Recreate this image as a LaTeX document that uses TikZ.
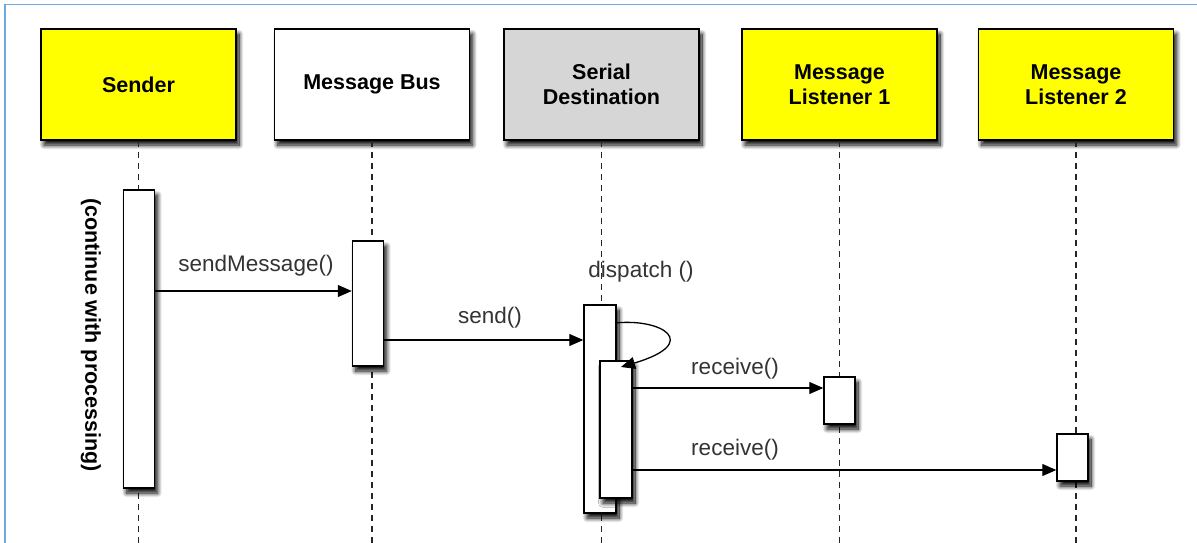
\documentclass[tikz,border=0pt]{standalone}
\usepackage{fontspec}
\setmainfont{Liberation Sans}
\usetikzlibrary{arrows.meta,shadows.blur}
\definecolor{frameblue}{HTML}{6FA8DC}
\definecolor{boxgray}{HTML}{D6D6D6}
\definecolor{boxyellow}{HTML}{FFFF00}
\tikzset{
  shad/.style={blur shadow={shadow xshift=3pt, shadow yshift=-5pt, shadow blur radius=4.5pt, shadow blur steps=12, shadow opacity=100}},
  head/.style={draw=black, line width=1.5pt, minimum width=195pt, minimum height=111pt, inner sep=0pt, align=center, font=\fontsize{21.5}{25}\selectfont\bfseries, shad},
  bar/.style={draw=black, fill=white, line width=1.5pt, minimum width=31pt, inner sep=0pt, shad},
  life/.style={line width=1.4pt, dash pattern=on 6pt off 5pt, black!85},
  msg/.style={line width=1.3pt, -{Triangle[length=14pt,width=12pt]}},
  lbl/.style={font=\fontsize{22.5}{26}\selectfont, text=black!80, inner sep=0pt},
  note/.style={font=\fontsize{21.5}{25}\selectfont\bfseries, inner sep=0pt, rotate=-90}
}
\begin{document}
\begin{tikzpicture}[x=1pt,y=-1pt]
\useasboundingbox (0,0) rectangle (1197,543);
% frame
\coordinate (fa) at (5,543);
\coordinate (fb) at (5,4.5);
\coordinate (fc) at (1197,4.5);
\draw[frameblue, line width=1.8pt] (fa) -- (fb) -- (fc);
% heads
\node[head, fill=boxyellow] (sender) at (138.5,84.5) {Sender};
\node[head, fill=white] (bus) at (372,84.5) {Message Bus};
\node[head, fill=boxgray] (dest) at (601.5,84.5) {Serial\\Destination};
\node[head, fill=boxyellow] (lis1) at (839.5,84.5) {Message\\Listener 1};
\node[head, fill=boxyellow] (lis2) at (1076,84.5) {Message\\Listener 2};
% lifelines
\coordinate (bottom) at (0,543);
\draw[life] (sender.south) -- (sender.south |- bottom);
\draw[life] (bus.south) -- (bus.south |- bottom);
\draw[life] (dest.south) -- (dest.south |- bottom);
\draw[life] (lis1.south) -- (lis1.south |- bottom);
\draw[life] (lis2.south) -- (lis2.south |- bottom);
% activation bars
\node[bar, minimum height=298pt] (sbar) at (139,339) {};
\node[bar, minimum height=125pt] (bbar) at (368,303.5) {};
\node[bar, minimum width=32pt, minimum height=208pt] (dbar) at (600,409) {};
\node[bar, minimum width=32pt, minimum height=137pt] (dinner) at (616,429.5) {};
\node[bar, minimum height=47pt] (l1bar) at (839.5,400.5) {};
\node[bar, minimum height=47pt] (l2bar) at (1072.5,457.5) {};
% note
\node[note] (cont) at (91,335) {(continue with processing)};
% messages
\coordinate (y1) at (0,291);
\coordinate (y2) at (0,340);
\coordinate (y3) at (0,388);
\coordinate (y4) at (0,470);
\draw[msg] (sbar.east |- y1) -- (bbar.west |- y1);
\node[lbl] (m1) at (256,266) {sendMessage()};
\draw[msg] (bbar.east |- y2) -- (dbar.west |- y2);
\node[lbl] (m2) at (490,318) {send()};
\coordinate (selfa) at (615,323);
\coordinate (selfb) at (621,367);
\draw[msg] (selfa) .. controls (662,318) and (702,343) .. (selfb);
\node[lbl] (m3) at (641,272) {dispatch ()};
\draw[msg] (dinner.east |- y3) -- (l1bar.west |- y3);
\node[lbl] (m4) at (735,369) {receive()};
\draw[msg] (dinner.east |- y4) -- (l2bar.west |- y4);
\node[lbl] (m5) at (735,450) {receive()};
\end{tikzpicture}
\end{document}
